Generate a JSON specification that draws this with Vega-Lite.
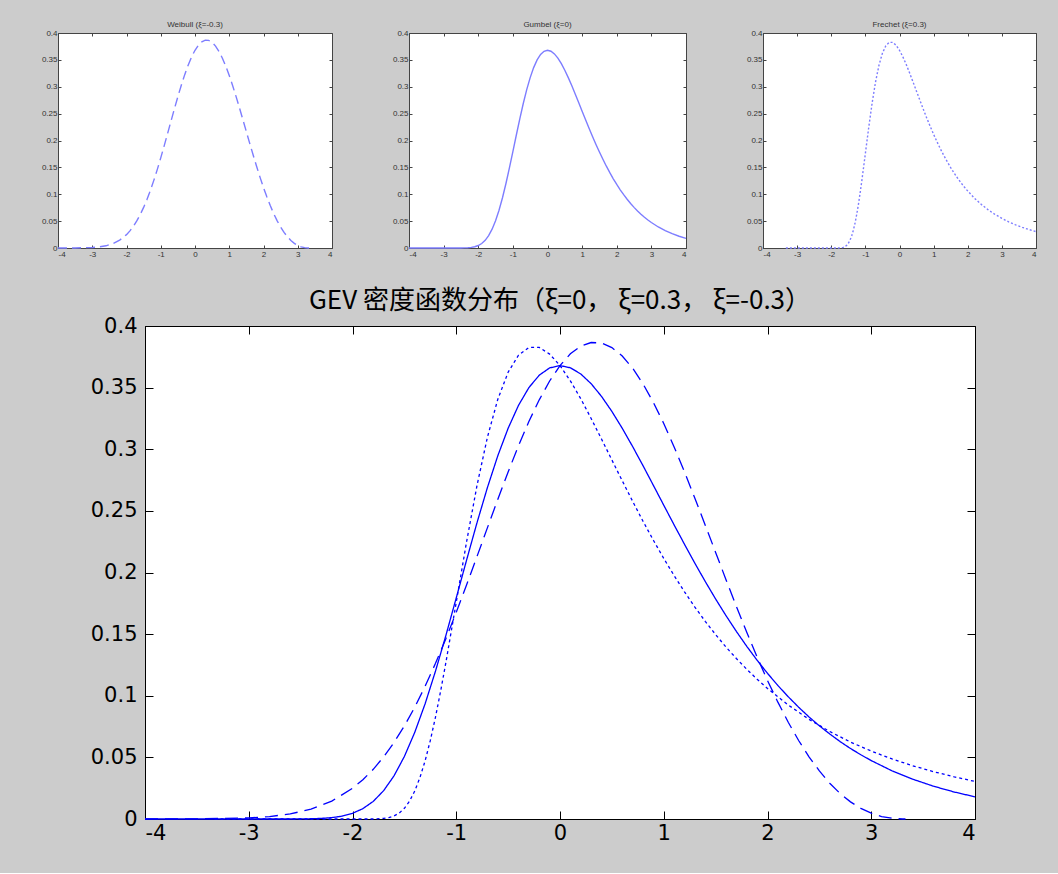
{
  "$schema": "https://vega.github.io/schema/vega-lite/v6.json",
  "background": "#cccccc",
  "padding": {"left": 40, "top": 20, "right": 18, "bottom": 29},
  "bounds": "full",
  "spacing": 28,
  "config": {
    "view": {"stroke": null},
    "axis": {"grid": false, "labelFont": "Liberation Sans", "labelColor": "#333333", "domainColor": "#444444", "tickColor": "#444444", "labelFontSize": 8, "tickSize": -3, "labelPadding": 5}
  },
  "datasets": {
    "gev": [
      {"s": "Gumbel", "x": -4, "y": 0}, {"s": "Gumbel", "x": -3.5, "y": 0}, {"s": "Gumbel", "x": -3, "y": 0}, {"s": "Gumbel", "x": -2.8, "y": 0}, {"s": "Gumbel", "x": -2.6, "y": 0},
      {"s": "Gumbel", "x": -2.5, "y": 0.0001}, {"s": "Gumbel", "x": -2.4, "y": 0.0002}, {"s": "Gumbel", "x": -2.3, "y": 0.0005}, {"s": "Gumbel", "x": -2.2, "y": 0.0011}, {"s": "Gumbel", "x": -2.1, "y": 0.0023},
      {"s": "Gumbel", "x": -2.0, "y": 0.0046}, {"s": "Gumbel", "x": -1.9, "y": 0.0084}, {"s": "Gumbel", "x": -1.8, "y": 0.0143}, {"s": "Gumbel", "x": -1.7, "y": 0.0230}, {"s": "Gumbel", "x": -1.6, "y": 0.0350},
      {"s": "Gumbel", "x": -1.5, "y": 0.0507}, {"s": "Gumbel", "x": -1.4, "y": 0.0703}, {"s": "Gumbel", "x": -1.3, "y": 0.0935}, {"s": "Gumbel", "x": -1.2, "y": 0.1200}, {"s": "Gumbel", "x": -1.1, "y": 0.1489},
      {"s": "Gumbel", "x": -1.0, "y": 0.1794}, {"s": "Gumbel", "x": -0.9, "y": 0.2102}, {"s": "Gumbel", "x": -0.8, "y": 0.2404}, {"s": "Gumbel", "x": -0.7, "y": 0.2688}, {"s": "Gumbel", "x": -0.6, "y": 0.2946},
      {"s": "Gumbel", "x": -0.5, "y": 0.3170}, {"s": "Gumbel", "x": -0.4, "y": 0.3356}, {"s": "Gumbel", "x": -0.3, "y": 0.3500}, {"s": "Gumbel", "x": -0.2, "y": 0.3601}, {"s": "Gumbel", "x": -0.1, "y": 0.3660},
      {"s": "Gumbel", "x": 0, "y": 0.3679}, {"s": "Gumbel", "x": 0.1, "y": 0.3661}, {"s": "Gumbel", "x": 0.2, "y": 0.3611}, {"s": "Gumbel", "x": 0.3, "y": 0.3532}, {"s": "Gumbel", "x": 0.4, "y": 0.3429},
      {"s": "Gumbel", "x": 0.5, "y": 0.3307}, {"s": "Gumbel", "x": 0.6, "y": 0.3170}, {"s": "Gumbel", "x": 0.7, "y": 0.3022}, {"s": "Gumbel", "x": 0.8, "y": 0.2867}, {"s": "Gumbel", "x": 0.9, "y": 0.2707},
      {"s": "Gumbel", "x": 1.0, "y": 0.2546}, {"s": "Gumbel", "x": 1.1, "y": 0.2386}, {"s": "Gumbel", "x": 1.2, "y": 0.2229}, {"s": "Gumbel", "x": 1.3, "y": 0.2075}, {"s": "Gumbel", "x": 1.4, "y": 0.1927},
      {"s": "Gumbel", "x": 1.5, "y": 0.1785}, {"s": "Gumbel", "x": 1.6, "y": 0.1650}, {"s": "Gumbel", "x": 1.7, "y": 0.1522}, {"s": "Gumbel", "x": 1.8, "y": 0.1401}, {"s": "Gumbel", "x": 1.9, "y": 0.1288},
      {"s": "Gumbel", "x": 2.0, "y": 0.1182}, {"s": "Gumbel", "x": 2.1, "y": 0.1083}, {"s": "Gumbel", "x": 2.2, "y": 0.0992}, {"s": "Gumbel", "x": 2.3, "y": 0.0907}, {"s": "Gumbel", "x": 2.4, "y": 0.0828},
      {"s": "Gumbel", "x": 2.5, "y": 0.0756}, {"s": "Gumbel", "x": 2.6, "y": 0.0690}, {"s": "Gumbel", "x": 2.7, "y": 0.0628}, {"s": "Gumbel", "x": 2.8, "y": 0.0572}, {"s": "Gumbel", "x": 2.9, "y": 0.0521},
      {"s": "Gumbel", "x": 3.0, "y": 0.0474}, {"s": "Gumbel", "x": 3.2, "y": 0.0391}, {"s": "Gumbel", "x": 3.4, "y": 0.0323}, {"s": "Gumbel", "x": 3.6, "y": 0.0266}, {"s": "Gumbel", "x": 3.8, "y": 0.0219},
      {"s": "Gumbel", "x": 4.0, "y": 0.0180},
      {"s": "Frechet", "x": -3.33, "y": 0}, {"s": "Frechet", "x": -3, "y": 0}, {"s": "Frechet", "x": -2.5, "y": 0}, {"s": "Frechet", "x": -2, "y": 0}, {"s": "Frechet", "x": -1.9, "y": 0},
      {"s": "Frechet", "x": -1.8, "y": 0.0000}, {"s": "Frechet", "x": -1.7, "y": 0.0005}, {"s": "Frechet", "x": -1.65, "y": 0.0011}, {"s": "Frechet", "x": -1.6, "y": 0.0025}, {"s": "Frechet", "x": -1.55, "y": 0.0048},
      {"s": "Frechet", "x": -1.5, "y": 0.0087}, {"s": "Frechet", "x": -1.45, "y": 0.0145}, {"s": "Frechet", "x": -1.4, "y": 0.0227}, {"s": "Frechet", "x": -1.35, "y": 0.0336}, {"s": "Frechet", "x": -1.3, "y": 0.0472},
      {"s": "Frechet", "x": -1.25, "y": 0.0637}, {"s": "Frechet", "x": -1.2, "y": 0.0827}, {"s": "Frechet", "x": -1.15, "y": 0.1040}, {"s": "Frechet", "x": -1.1, "y": 0.1269}, {"s": "Frechet", "x": -1.0, "y": 0.1759},
      {"s": "Frechet", "x": -0.9, "y": 0.2251}, {"s": "Frechet", "x": -0.8, "y": 0.2706}, {"s": "Frechet", "x": -0.7, "y": 0.3096}, {"s": "Frechet", "x": -0.6, "y": 0.3404}, {"s": "Frechet", "x": -0.5, "y": 0.3625},
      {"s": "Frechet", "x": -0.4, "y": 0.3763}, {"s": "Frechet", "x": -0.3, "y": 0.3826}, {"s": "Frechet", "x": -0.2, "y": 0.3826}, {"s": "Frechet", "x": -0.1, "y": 0.3772}, {"s": "Frechet", "x": 0, "y": 0.3679},
      {"s": "Frechet", "x": 0.1, "y": 0.3555}, {"s": "Frechet", "x": 0.2, "y": 0.3410}, {"s": "Frechet", "x": 0.3, "y": 0.3250}, {"s": "Frechet", "x": 0.4, "y": 0.3083}, {"s": "Frechet", "x": 0.5, "y": 0.2913},
      {"s": "Frechet", "x": 0.6, "y": 0.2744}, {"s": "Frechet", "x": 0.7, "y": 0.2578}, {"s": "Frechet", "x": 0.8, "y": 0.2416}, {"s": "Frechet", "x": 0.9, "y": 0.2262}, {"s": "Frechet", "x": 1.0, "y": 0.2114},
      {"s": "Frechet", "x": 1.1, "y": 0.1975}, {"s": "Frechet", "x": 1.2, "y": 0.1843}, {"s": "Frechet", "x": 1.3, "y": 0.1719}, {"s": "Frechet", "x": 1.4, "y": 0.1604}, {"s": "Frechet", "x": 1.5, "y": 0.1496},
      {"s": "Frechet", "x": 1.6, "y": 0.1395}, {"s": "Frechet", "x": 1.7, "y": 0.1302}, {"s": "Frechet", "x": 1.8, "y": 0.1215}, {"s": "Frechet", "x": 1.9, "y": 0.1134}, {"s": "Frechet", "x": 2.0, "y": 0.1059},
      {"s": "Frechet", "x": 2.2, "y": 0.0925}, {"s": "Frechet", "x": 2.4, "y": 0.0809}, {"s": "Frechet", "x": 2.6, "y": 0.0710}, {"s": "Frechet", "x": 2.8, "y": 0.0624}, {"s": "Frechet", "x": 3.0, "y": 0.0551},
      {"s": "Frechet", "x": 3.2, "y": 0.0487}, {"s": "Frechet", "x": 3.4, "y": 0.0432}, {"s": "Frechet", "x": 3.6, "y": 0.0384}, {"s": "Frechet", "x": 3.8, "y": 0.0342}, {"s": "Frechet", "x": 4.0, "y": 0.0305},
      {"s": "Weibull", "x": -4, "y": 0.0000}, {"s": "Weibull", "x": -3.5, "y": 0.0001}, {"s": "Weibull", "x": -3.0, "y": 0.0009}, {"s": "Weibull", "x": -2.8, "y": 0.0020}, {"s": "Weibull", "x": -2.6, "y": 0.0041},
      {"s": "Weibull", "x": -2.4, "y": 0.0080}, {"s": "Weibull", "x": -2.2, "y": 0.0145}, {"s": "Weibull", "x": -2.0, "y": 0.0249}, {"s": "Weibull", "x": -1.9, "y": 0.0319}, {"s": "Weibull", "x": -1.8, "y": 0.0403},
      {"s": "Weibull", "x": -1.7, "y": 0.0504}, {"s": "Weibull", "x": -1.6, "y": 0.0621}, {"s": "Weibull", "x": -1.5, "y": 0.0755}, {"s": "Weibull", "x": -1.4, "y": 0.0907}, {"s": "Weibull", "x": -1.3, "y": 0.1077},
      {"s": "Weibull", "x": -1.2, "y": 0.1263}, {"s": "Weibull", "x": -1.1, "y": 0.1463}, {"s": "Weibull", "x": -1.0, "y": 0.1677}, {"s": "Weibull", "x": -0.9, "y": 0.1901}, {"s": "Weibull", "x": -0.8, "y": 0.2130},
      {"s": "Weibull", "x": -0.7, "y": 0.2362}, {"s": "Weibull", "x": -0.6, "y": 0.2592}, {"s": "Weibull", "x": -0.5, "y": 0.2816}, {"s": "Weibull", "x": -0.4, "y": 0.3028}, {"s": "Weibull", "x": -0.3, "y": 0.3225},
      {"s": "Weibull", "x": -0.2, "y": 0.3401}, {"s": "Weibull", "x": -0.1, "y": 0.3554}, {"s": "Weibull", "x": 0, "y": 0.3679}, {"s": "Weibull", "x": 0.1, "y": 0.3774}, {"s": "Weibull", "x": 0.2, "y": 0.3837},
      {"s": "Weibull", "x": 0.3, "y": 0.3866}, {"s": "Weibull", "x": 0.4, "y": 0.3862}, {"s": "Weibull", "x": 0.5, "y": 0.3825}, {"s": "Weibull", "x": 0.6, "y": 0.3756}, {"s": "Weibull", "x": 0.7, "y": 0.3658},
      {"s": "Weibull", "x": 0.8, "y": 0.3531}, {"s": "Weibull", "x": 0.9, "y": 0.3380}, {"s": "Weibull", "x": 1.0, "y": 0.3209}, {"s": "Weibull", "x": 1.1, "y": 0.3019}, {"s": "Weibull", "x": 1.2, "y": 0.2816},
      {"s": "Weibull", "x": 1.3, "y": 0.2603}, {"s": "Weibull", "x": 1.4, "y": 0.2384}, {"s": "Weibull", "x": 1.5, "y": 0.2163}, {"s": "Weibull", "x": 1.6, "y": 0.1942}, {"s": "Weibull", "x": 1.7, "y": 0.1725},
      {"s": "Weibull", "x": 1.8, "y": 0.1515}, {"s": "Weibull", "x": 1.9, "y": 0.1314}, {"s": "Weibull", "x": 2.0, "y": 0.1124}, {"s": "Weibull", "x": 2.1, "y": 0.0948}, {"s": "Weibull", "x": 2.2, "y": 0.0785},
      {"s": "Weibull", "x": 2.3, "y": 0.0637}, {"s": "Weibull", "x": 2.4, "y": 0.0505}, {"s": "Weibull", "x": 2.5, "y": 0.0390}, {"s": "Weibull", "x": 2.6, "y": 0.0290}, {"s": "Weibull", "x": 2.7, "y": 0.0207},
      {"s": "Weibull", "x": 2.8, "y": 0.0139}, {"s": "Weibull", "x": 2.9, "y": 0.0086}, {"s": "Weibull", "x": 3.0, "y": 0.0047}, {"s": "Weibull", "x": 3.1, "y": 0.0020}, {"s": "Weibull", "x": 3.2, "y": 0.0006},
      {"s": "Weibull", "x": 3.3, "y": 0.0000}, {"s": "Weibull", "x": 3.33, "y": 0}
    ]
  },
  "vconcat": [
    {
      "bounds": "flush",
      "spacing": 77,
      "hconcat": [
        {
          "width": 274, "height": 215,
          "view": {"fill": "white", "stroke": "#444444", "strokeWidth": 1},
          "title": {"text": "Weibull (ξ=-0.3)", "fontSize": 8, "font": "Liberation Sans", "fontWeight": "normal", "color": "#333333", "offset": 0, "frame": "group"},
          "data": {"name": "gev"},
          "transform": [{"filter": "datum.s === 'Weibull'"}],
          "layer": [
            {"mark": {"type": "line", "color": "#7d7dff", "strokeWidth": 1.4, "strokeDash": [9, 5]},
             "encoding": {
               "x": {"field": "x", "type": "quantitative", "scale": {"domain": [-4, 4], "nice": false}, "axis": {"title": null, "orient": "bottom", "values": [-4, -3, -2, -1, 0, 1, 2, 3, 4], "labelExpr": "replace(datum.label, '−', '-')"}},
               "y": {"field": "y", "type": "quantitative", "scale": {"domain": [0, 0.4], "nice": false}, "axis": {"title": null, "orient": "left", "format": "~g", "labelPadding": 4, "values": [0, 0.05, 0.1, 0.15, 0.2, 0.25, 0.3, 0.35, 0.4]}}
             }},
            {"mark": {"type": "line", "opacity": 0},
             "encoding": {
               "x": {"field": "x", "type": "quantitative", "axis": {"title": null, "orient": "top", "labels": false, "domain": false, "values": [-4, -3, -2, -1, 0, 1, 2, 3, 4]}},
               "y": {"field": "y", "type": "quantitative", "axis": {"title": null, "orient": "right", "labels": false, "domain": false, "values": [0, 0.05, 0.1, 0.15, 0.2, 0.25, 0.3, 0.35, 0.4]}}
             }}
          ],
          "resolve": {"axis": {"x": "independent", "y": "independent"}}
        },
        {
          "width": 277, "height": 215,
          "view": {"fill": "white", "stroke": "#444444", "strokeWidth": 1},
          "title": {"text": "Gumbel (ξ=0)", "fontSize": 8, "font": "Liberation Sans", "fontWeight": "normal", "color": "#333333", "offset": 0, "frame": "group"},
          "data": {"name": "gev"},
          "transform": [{"filter": "datum.s === 'Gumbel'"}],
          "layer": [
            {"mark": {"type": "line", "color": "#7d7dff", "strokeWidth": 1.4},
             "encoding": {
               "x": {"field": "x", "type": "quantitative", "scale": {"domain": [-4, 4], "nice": false}, "axis": {"title": null, "orient": "bottom", "values": [-4, -3, -2, -1, 0, 1, 2, 3, 4], "labelExpr": "replace(datum.label, '−', '-')"}},
               "y": {"field": "y", "type": "quantitative", "scale": {"domain": [0, 0.4], "nice": false}, "axis": {"title": null, "orient": "left", "format": "~g", "labelPadding": 4, "values": [0, 0.05, 0.1, 0.15, 0.2, 0.25, 0.3, 0.35, 0.4]}}
             }},
            {"mark": {"type": "line", "opacity": 0},
             "encoding": {
               "x": {"field": "x", "type": "quantitative", "axis": {"title": null, "orient": "top", "labels": false, "domain": false, "values": [-4, -3, -2, -1, 0, 1, 2, 3, 4]}},
               "y": {"field": "y", "type": "quantitative", "axis": {"title": null, "orient": "right", "labels": false, "domain": false, "values": [0, 0.05, 0.1, 0.15, 0.2, 0.25, 0.3, 0.35, 0.4]}}
             }}
          ],
          "resolve": {"axis": {"x": "independent", "y": "independent"}}
        },
        {
          "width": 273, "height": 215,
          "view": {"fill": "white", "stroke": "#444444", "strokeWidth": 1},
          "title": {"text": "Frechet (ξ=0.3)", "fontSize": 8, "font": "Liberation Sans", "fontWeight": "normal", "color": "#333333", "offset": 0, "frame": "group"},
          "data": {"name": "gev"},
          "transform": [{"filter": "datum.s === 'Frechet'"}],
          "layer": [
            {"mark": {"type": "line", "color": "#7d7dff", "strokeWidth": 1.4, "strokeDash": [2, 2]},
             "encoding": {
               "x": {"field": "x", "type": "quantitative", "scale": {"domain": [-4, 4], "nice": false}, "axis": {"title": null, "orient": "bottom", "values": [-4, -3, -2, -1, 0, 1, 2, 3, 4], "labelExpr": "replace(datum.label, '−', '-')"}},
               "y": {"field": "y", "type": "quantitative", "scale": {"domain": [0, 0.4], "nice": false}, "axis": {"title": null, "orient": "left", "format": "~g", "labelPadding": 4, "values": [0, 0.05, 0.1, 0.15, 0.2, 0.25, 0.3, 0.35, 0.4]}}
             }},
            {"mark": {"type": "line", "opacity": 0},
             "encoding": {
               "x": {"field": "x", "type": "quantitative", "axis": {"title": null, "orient": "top", "labels": false, "domain": false, "values": [-4, -3, -2, -1, 0, 1, 2, 3, 4]}},
               "y": {"field": "y", "type": "quantitative", "axis": {"title": null, "orient": "right", "labels": false, "domain": false, "values": [0, 0.05, 0.1, 0.15, 0.2, 0.25, 0.3, 0.35, 0.4]}}
             }}
          ],
          "resolve": {"axis": {"x": "independent", "y": "independent"}}
        }
      ]
    },
    {
      "bounds": "flush",
      "spacing": 0,
      "hconcat": [
        {
          "width": 87, "height": 10,
          "view": {"fill": null, "stroke": null},
          "data": {"values": [{}]},
          "mark": {"type": "point", "opacity": 0}
        },
        {
          "width": 830, "height": 493,
          "view": {"fill": "white", "stroke": "black", "strokeWidth": 1},
          "title": {"text": "GEV 密度函数分布（ξ=0， ξ=0.3， ξ=-0.3）", "fontSize": 26, "font": "Noto Sans CJK SC", "fontWeight": "normal", "color": "black", "offset": 1, "dx": 0, "frame": "group"},
          "data": {"name": "gev"},
          "layer": [
            {"mark": {"type": "line", "color": "#0000ff", "strokeWidth": 1.3},
             "encoding": {
               "x": {"field": "x", "type": "quantitative", "scale": {"domain": [-4, 4], "nice": false}, "axis": {"title": null, "orient": "bottom", "values": [-4, -3, -2, -1, 0, 1, 2, 3, 4], "labelExpr": "replace(datum.label, '−', '-')", "labelFont": "DejaVu Sans", "labelFontSize": 21, "labelColor": "black", "domainColor": "black", "tickColor": "black", "tickSize": -8, "labelPadding": 11}},
               "y": {"field": "y", "type": "quantitative", "scale": {"domain": [0, 0.4], "nice": false}, "axis": {"title": null, "orient": "left", "format": "~g", "values": [0, 0.05, 0.1, 0.15, 0.2, 0.25, 0.3, 0.35, 0.4], "labelFont": "DejaVu Sans", "labelFontSize": 21, "labelColor": "black", "domainColor": "black", "tickColor": "black", "tickSize": -8, "labelPadding": 16}},
               "strokeDash": {"field": "s", "type": "nominal", "scale": {"domain": ["Gumbel", "Frechet", "Weibull"], "range": [[1, 0], [3, 3], [13, 7]]}, "legend": null}
             }},
            {"mark": {"type": "line", "opacity": 0},
             "encoding": {
               "x": {"field": "x", "type": "quantitative", "axis": {"title": null, "orient": "top", "labels": false, "domain": false, "tickColor": "black", "tickSize": -8, "values": [-4, -3, -2, -1, 0, 1, 2, 3, 4]}},
               "y": {"field": "y", "type": "quantitative", "axis": {"title": null, "orient": "right", "labels": false, "domain": false, "tickColor": "black", "tickSize": -8, "values": [0, 0.05, 0.1, 0.15, 0.2, 0.25, 0.3, 0.35, 0.4]}},
               "detail": {"field": "s", "type": "nominal"}
             }}
          ],
          "resolve": {"axis": {"x": "independent", "y": "independent"}}
        }
      ]
    }
  ]
}
